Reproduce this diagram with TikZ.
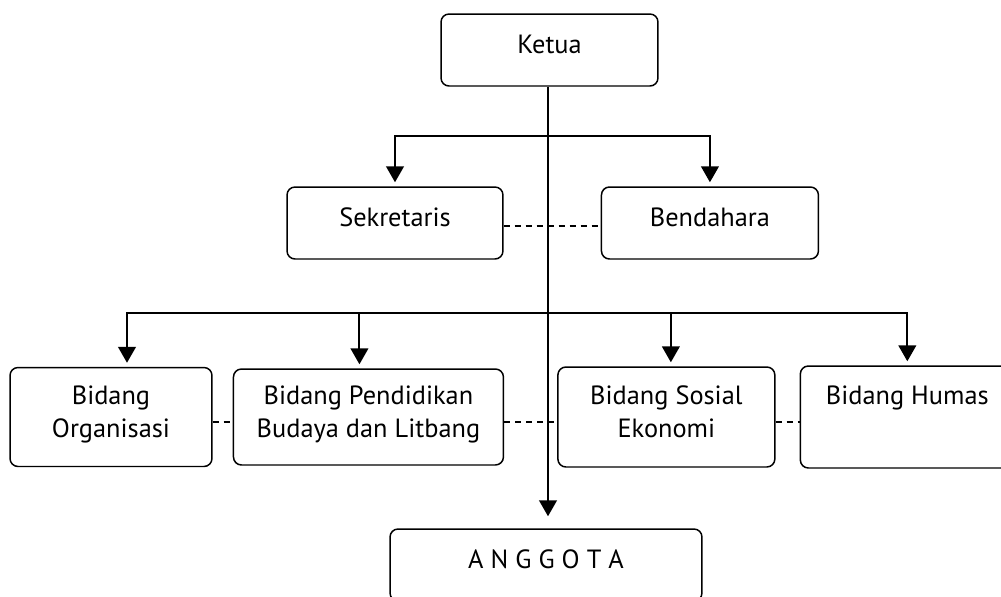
\documentclass[tikz,border=0pt]{standalone}
\usepackage{fontspec}
\setmainfont{PT Sans}
\usetikzlibrary{arrows.meta,positioning}

\begin{document}
\begin{tikzpicture}[
                            x=0.02cm,
                            y=-0.02cm,
                            >={Triangle[length=9pt,width=10pt]},
                            line width=1.1pt,
                            font=\fontsize{15}{18.7}\selectfont
                        ]

                        \tikzstyle{jabatan}=[draw=black,line width=0.85pt,rounded corners=0.16cm,align=center,text depth=0.22cm,inner sep=0pt]
                        \tikzstyle{garis}=[dash pattern=on 0.12cm off 0.1cm,line width=0.7pt]

                        \clip (0,0) rectangle (1001,596);

                        \node[jabatan,minimum width=4.34cm,minimum height=1.44cm] (Ketua)      at (549.5,50) {Ketua};
                        \node[jabatan,minimum width=4.32cm,minimum height=1.44cm] (Sekretaris) at (395,223)  {Sekretaris};
                        \node[jabatan,minimum width=4.34cm,minimum height=1.44cm] (Bendahara)  [right=1.94cm of Sekretaris] {Bendahara};

                        \node[jabatan,minimum width=4.04cm,minimum height=1.98cm] (Organisasi) at (111,417)  {Bidang\\Organisasi};
                        \node[jabatan,minimum width=5.40cm,minimum height=1.92cm] (Pendidikan) [right=0.4cm of Organisasi] {Bidang Pendidikan\\Budaya dan Litbang};
                        \node[jabatan,minimum width=4.34cm,minimum height=2.00cm] (Sosial)     [right=1.06cm of Pendidikan] {Bidang Sosial\\Ekonomi};
                        \node[jabatan,minimum width=4.28cm,minimum height=2.04cm] (Humas)      [right=0.48cm of Sosial] {Bidang Humas\\\mbox{}};

                        \node[jabatan,minimum width=6.24cm,minimum height=1.44cm] (Anggota)    at (546,565)  {A N G G O T A};

                        \coordinate (cabang1) at (548,136);
                        \coordinate (cabang2) at (548,313);

                        % garis komando
                        \draw[->,shorten >=0.24cm] (cabang1 |- Ketua.south) -- (cabang1 |- Anggota.north);
                        \draw[->,shorten >=0.08cm] (cabang1) -| (Sekretaris.north);
                        \draw[->,shorten >=0.08cm] (cabang1) -| (Bendahara.north);
                        \draw[->,shorten >=0.08cm] (cabang2) -| ([xshift=0.32cm]Organisasi.north);
                        \draw[->,shorten >=0.08cm] (cabang2) -| ([xshift=-0.18cm]Pendidikan.north);
                        \draw[->,shorten >=0.08cm] (cabang2) -| ([xshift=0.09cm]Sosial.north);
                        \draw[->,shorten >=0.08cm] (cabang2) -| (Humas.north);

                        % garis koordinasi
                        \path
                        ([yshift=-0.06cm]Sekretaris.east) edge [garis] ([yshift=-0.06cm]Bendahara.west)
                        ([yshift=-0.1cm]Organisasi.east)  edge [garis] ([yshift=-0.1cm]Pendidikan.west)
                        ([yshift=-0.1cm]Pendidikan.east)  edge [garis] ([yshift=-0.1cm]Sosial.west)
                        ([yshift=-0.1cm]Sosial.east)      edge [garis] ([yshift=-0.1cm]Humas.west)
                        ;
                    \end{tikzpicture}
\end{document}
